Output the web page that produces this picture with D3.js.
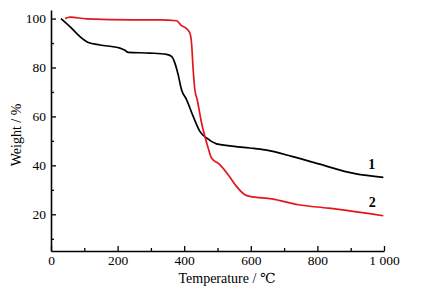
<!DOCTYPE html>
<html>
<head>
<meta charset="utf-8">
<script src="https://cdn.jsdelivr.net/npm/d3@7"></script>
<style>
  body { margin: 0; background: #fff; }
  svg text { font-family: "Liberation Serif", "Times New Roman", Times, "DejaVu Serif", serif; }
</style>
</head>
<body>
<svg id="chart"></svg>
<script>
// TGA curves, temperature (℃) vs weight (%)
const temp1 = [30, 57, 87, 112, 147, 207, 222, 232, 297, 347, 362, 372, 382, 392, 407, 427, 447, 467, 497, 537, 597, 643, 723, 804, 913, 998];
const weight1 = [100, 96.7, 92.6, 90.2, 89.2, 87.9, 87, 86.2, 85.9, 85.4, 84.5, 81.8, 77, 70.9, 66.9, 60, 53.9, 51.2, 48.8, 48, 47.1, 46.3, 43.7, 40.6, 36.6, 35.1];

const temp2 = [42, 57, 107, 247, 327, 377, 392, 407, 417, 422, 427, 432, 439, 452, 462, 472, 482, 507, 532, 557, 582, 597, 663, 743, 833, 998];
const weight2 = [100, 100.6, 99.9, 99.5, 99.5, 99.1, 97.1, 95.9, 94.1, 90, 79.1, 70.9, 66.9, 57.4, 51.9, 47.1, 43, 40.3, 36.2, 31.4, 28, 27.3, 26.3, 23.9, 22.5, 19.4];

const xTicks = [0, 200, 400, 600, 800, 1000];
const xMinor = [100, 300, 500, 700, 900];
const yTicks = [20, 40, 60, 80, 100];
const yMinor = [10, 30, 50, 70, 90];

const width = 425, height = 291;
const serif = "'Liberation Serif', 'Times New Roman', 'DejaVu Serif', serif";
const svg = d3.select("#chart").attr("width", width).attr("height", height);

const x = d3.scaleLinear().domain([0, 1000]).range([51, 384]);
const y = d3.scaleLinear().domain([5, 103.5]).range([251, 10]);

// axes, ticks pointing inward
const fmtX = d => d === 1000 ? "1 000" : d;
svg.append("g")
  .attr("transform", `translate(0,${y(5)})`)
  .call(d3.axisBottom(x).tickValues(xTicks).tickSizeInner(-5).tickSizeOuter(0).tickPadding(4).tickFormat(fmtX));
svg.append("g")
  .attr("transform", `translate(0,${y(5)})`)
  .call(d3.axisBottom(x).tickValues(xMinor).tickSizeInner(-3).tickSizeOuter(0).tickFormat(""))
  .select(".domain").remove();

svg.append("g")
  .attr("transform", `translate(${x(0)},0)`)
  .call(d3.axisLeft(y).tickValues(yTicks).tickSizeInner(-5).tickSizeOuter(0).tickPadding(5));
svg.append("g")
  .attr("transform", `translate(${x(0)},0)`)
  .call(d3.axisLeft(y).tickValues(yMinor).tickSizeInner(-3).tickSizeOuter(0).tickFormat(""))
  .select(".domain").remove();

svg.selectAll("g").attr("font-family", serif);
svg.selectAll(".domain").attr("stroke", "#000").attr("stroke-width", 1.6);
svg.selectAll(".tick line").attr("stroke", "#000").attr("stroke-width", 1.3);
svg.selectAll(".tick text").attr("font-size", 13.5).attr("fill", "#000");

// curves
const line = d3.line()
  .x(d => x(d[0]))
  .y(d => y(d[1]))
  .curve(d3.curveMonotoneX);

svg.append("path")
  .datum(d3.zip(temp1, weight1))
  .attr("d", line)
  .attr("fill", "none")
  .attr("stroke", "#000")
  .attr("stroke-width", 1.7);

svg.append("path")
  .datum(d3.zip(temp2, weight2))
  .attr("d", line)
  .attr("fill", "none")
  .attr("stroke", "#e3161b")
  .attr("stroke-width", 1.7);

// curve labels
svg.append("text")
  .attr("x", x(963)).attr("y", y(38.5))
  .attr("text-anchor", "middle")
  .attr("font-family", serif)
  .attr("font-size", 14).attr("font-weight", "bold")
  .text("1");
svg.append("text")
  .attr("x", x(965)).attr("y", y(23))
  .attr("text-anchor", "middle")
  .attr("font-family", serif)
  .attr("font-size", 14).attr("font-weight", "bold")
  .text("2");

// axis titles
svg.append("text")
  .attr("x", 227).attr("y", 283)
  .attr("text-anchor", "middle")
  .attr("font-family", serif)
  .attr("font-size", 14)
  .text("Temperature / ℃");
svg.append("text")
  .attr("transform", "translate(21,135) rotate(-90)")
  .attr("text-anchor", "middle")
  .attr("font-family", serif)
  .attr("font-size", 14)
  .text("Weight / %");
</script>
</body>
</html>
